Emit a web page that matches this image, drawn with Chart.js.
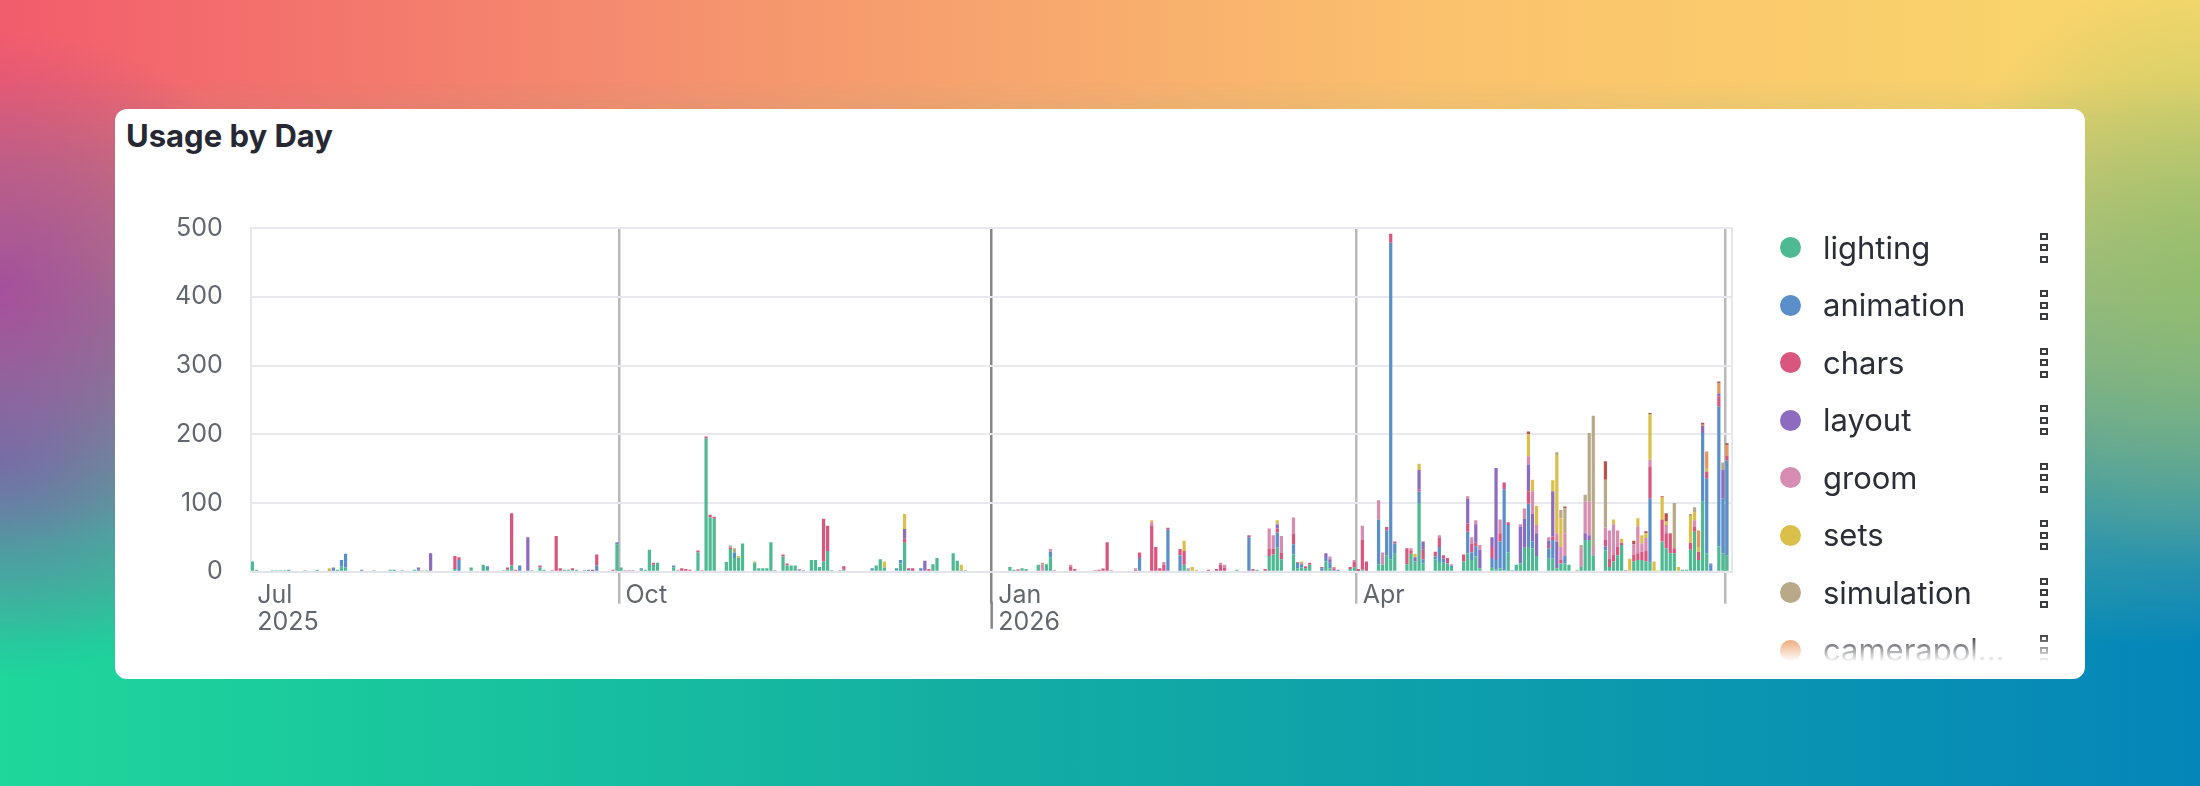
<!DOCTYPE html>
<html lang="en">
	<head>
		<meta charset="UTF-8" />
		<meta name="viewport" content="width=device-width, initial-scale=1.0" />
		<title>Usage by Day</title>
		<script src="https://cdn.jsdelivr.net/npm/chart.js"></script>
		<style>
			html, body { margin: 0; padding: 0; }
			body {
				width: 2200px; height: 786px; position: relative; overflow: hidden;
				font-family: Inter, "Noto Sans", sans-serif;
				background: linear-gradient(90deg, #f25c6c 0%, #f5946e 33%, #fbc26d 66%, #f8d86b 100%);
			}
			.bg-bottom {
				position: absolute; inset: 0;
				background: linear-gradient(90deg, #1ed79a 0%, #13aea3 45%, #0586b9 100%);
				-webkit-mask-image: linear-gradient(180deg, transparent 10%, #000 82%);
				mask-image: linear-gradient(180deg, transparent 10%, #000 82%);
			}
			.bg-side {
				position: absolute; inset: 0;
				background:
					radial-gradient(ellipse 300px 260px at 0px 290px, rgba(168, 74, 158, 0.9), rgba(168, 74, 158, 0)),
					radial-gradient(ellipse 260px 220px at 0px 460px, rgba(96, 112, 178, 0.8), rgba(96, 112, 178, 0)),
					radial-gradient(ellipse 260px 300px at 2200px 270px, rgba(140, 190, 100, 0.7), rgba(140, 190, 100, 0));
			}
			.card {
				position: absolute; left: 115px; top: 109px; width: 1970px; height: 570px;
				background: #fff; border-radius: 12px;
			}
			.title {
				position: absolute; left: 11px; top: 11px;
				font: 700 31px/31px Inter, sans-serif; color: #262933;
			}
			#usageChart { position: absolute; left: 115px; top: 195px; }
			.legend {
				position: absolute; left: 1775px; top: 219px; width: 290px; height: 443px; overflow: hidden;
				-webkit-mask-image: linear-gradient(180deg, #000 calc(100% - 28px), transparent 100%);
				mask-image: linear-gradient(180deg, #000 calc(100% - 28px), transparent 100%);
			}
			.legend-item { position: relative; height: 57.5px; display: flex; align-items: center; }
			.legend-dot { width: 21px; height: 21px; border-radius: 50%; margin-left: 4.5px; flex: none; }
			.legend-label {
				margin-left: 22.5px; font: 400 31px/38px Inter, sans-serif; color: #2b2e37;
				white-space: nowrap; overflow: hidden; text-overflow: ellipsis; max-width: 187.5px;
			}
			.legend-handle { position: absolute; left: 265px; top: 50%; transform: translateY(-50%); }
			.legend-handle span {
				display: block; width: 4px; height: 3px; border: 2px solid #3b3c40; margin: 0 0 4.5px 0;
			}
			.legend-handle span:last-child { margin-bottom: 0; }
		</style>
	</head>

	<body>
		<div class="bg-bottom"></div>
		<div class="bg-side"></div>
		<div class="card"><div class="title">Usage by Day</div></div>
		<canvas id="usageChart" width="1620" height="470"></canvas>
		<div class="legend" id="legend"></div>
	</body>
	<script>
		// day 0 = 2025-07-01, pairs are [day, count]
		const windowStart = 1.09;
		const windowEnd = 366.67;
		const tickDays = [windowStart, 92, 184, 274, 365];
		const tickLabels = [["Jul", "2025"], "Oct", ["Jan", "2026"], "Apr", ""];

		const lighting = [[1,15],[2,3],[6,2],[7,2],[8,2],[9,2],[14,2],[17,3],[20,1],[22,3],[23,8],[24,6],[31,2],[35,3],[38,2],[41,3],[44,2],[51,4],[55,6],[58,10],[59,4],[63,2],[64,3],[65,9],[70,2],[72,6],[73,3],[78,3],[79,3],[80,2],[81,3],[91,40],[92,6],[97,3],[98,3],[99,32],[100,10],[101,13],[105,6],[111,28],[113,194],[114,79],[115,77],[118,14],[119,33],[120,20],[121,20],[122,41],[125,13],[126,5],[127,5],[128,5],[129,43],[132,22],[133,9],[134,9],[135,9],[139,17],[140,17],[141,7],[142,15],[143,30],[147,3],[154,2],[155,9],[156,18],[157,6],[160,2],[161,12],[162,42],[163,2],[169,11],[170,20],[174,27],[175,16],[176,2],[188,7],[189,3],[191,5],[192,4],[195,10],[197,11],[198,21],[231,10],[232,3],[244,3],[249,3],[252,23],[253,25],[254,35],[255,18],[258,25],[259,5],[260,6],[261,5],[262,10],[266,15],[267,5],[272,4],[273,6],[274,1],[275,3],[279,11],[280,10],[281,24],[282,18],[283,26],[286,11],[287,26],[288,15],[289,100],[290,12],[293,18],[294,14],[295,13],[296,12],[297,7],[300,15],[301,27],[302,17],[303,22],[304,5],[307,7],[308,3],[309,5],[310,2],[311,28],[313,10],[314,12],[315,35],[316,36],[317,34],[318,23],[321,19],[322,19],[323,5],[324,12],[325,12],[326,10],[329,7],[330,46],[331,46],[332,24],[335,31],[336,7],[337,15],[338,24],[339,39],[342,15],[343,17],[344,17],[345,15],[346,13],[349,44],[350,34],[351,27],[352,27],[354,3],[355,3],[356,32],[357,58],[358,17],[359,102],[360,27],[363,37],[364,27],[365,24]];
		const animation = [[10,3],[21,6],[23,9],[24,20],[28,3],[36,3],[42,3],[52,17],[59,4],[67,9],[83,2],[84,3],[85,1],[86,9],[91,3],[95,2],[97,2],[105,3],[120,8],[137,2],[144,2],[146,2],[154,3],[160,3],[161,5],[166,5],[177,2],[198,8],[220,20],[227,61],[230,24],[247,50],[254,22],[258,15],[259,8],[260,4],[265,5],[266,5],[267,8],[268,2],[269,3],[279,65],[281,36],[282,461],[283,15],[289,17],[290,6],[293,4],[294,22],[295,6],[297,2],[301,31],[302,11],[303,15],[307,13],[308,14],[309,39],[310,118],[311,40],[312,2],[316,63],[317,10],[321,15],[322,27],[325,11],[335,6],[346,94],[359,100],[360,109],[361,10],[363,203],[364,80],[365,138]];
		const chars = [[51,19],[52,4],[64,3],[65,76],[66,3],[72,3],[75,2],[76,52],[77,5],[80,3],[85,2],[86,16],[90,3],[93,2],[94,2],[100,3],[106,2],[107,5],[108,4],[109,3],[111,3],[112,2],[113,3],[114,4],[115,3],[119,2],[130,2],[132,3],[133,3],[142,62],[143,37],[147,5],[162,6],[163,3],[164,5],[167,2],[168,4],[190,3],[199,2],[203,7],[204,4],[209,2],[210,3],[211,4],[212,43],[213,2],[219,3],[220,8],[223,67],[224,36],[225,5],[226,10],[227,3],[230,9],[231,20],[237,3],[239,4],[240,10],[241,6],[247,3],[248,4],[251,4],[252,10],[253,8],[254,6],[255,10],[258,15],[259,1],[260,2],[261,3],[262,3],[265,2],[268,3],[272,3],[273,8],[274,3],[275,44],[276,15],[281,5],[282,13],[283,3],[286,23],[287,5],[289,3],[290,14],[293,7],[294,13],[295,5],[296,8],[300,10],[301,12],[302,13],[303,5],[307,16],[309,12],[310,10],[311,4],[316,18],[321,5],[322,5],[324,5],[335,10],[336,12],[337,10],[338,12],[339,3],[340,2],[342,10],[343,10],[344,12],[345,15],[346,46],[349,32],[350,22],[351,29],[352,7],[356,10],[357,7],[358,12],[360,10],[363,15],[365,7]];
		const layout = [[42,3],[45,27],[69,50],[136,2],[162,14],[167,14],[254,5],[266,7],[267,5],[288,6],[289,28],[290,12],[301,36],[303,27],[304,27],[307,14],[308,134],[314,53],[315,42],[316,39],[317,40],[318,33],[321,6],[322,66],[323,39],[330,10],[331,7],[359,10],[361,2],[363,5],[364,41]];
		const groom = [[136,2],[190,1],[196,10],[198,4],[203,3],[219,2],[223,5],[226,4],[232,2],[240,3],[241,4],[252,30],[253,20],[254,2],[255,24],[258,24],[267,4],[273,3],[275,20],[279,28],[280,18],[287,3],[294,4],[297,2],[301,4],[302,9],[303,6],[304,7],[309,20],[314,4],[315,15],[316,12],[317,33],[318,12],[321,5],[323,12],[324,19],[325,33],[329,27],[330,46],[331,49],[332,12],[335,17],[336,41],[337,44],[338,24],[342,15],[343,39],[344,12],[345,19],[346,10],[350,12],[357,10]];
		const sets = [[20,4],[43,2],[121,3],[125,2],[157,9],[162,22],[176,8],[223,3],[231,15],[233,7],[234,3],[254,5],[260,3],[288,5],[289,9],[316,32],[317,17],[318,28],[322,16],[323,114],[324,42],[337,7],[339,6],[341,19],[343,12],[344,12],[345,7],[346,66],[347,15],[348,2],[349,32],[350,5],[353,7],[356,39],[357,12],[358,7],[360,5]];
		const simulation = [[119,3],[120,6],[196,3],[211,1],[323,4],[324,12],[325,36],[328,3],[329,5],[330,10],[331,100],[332,191],[335,70],[352,66],[356,3],[357,7],[364,11]];
		const camerapolish = [[268,2],[358,24],[359,2],[360,24],[363,14],[365,15]];
		const fx = [[316,4],[325,3],[335,27],[342,5],[345,3],[346,2],[349,2],[350,12],[359,3],[363,3],[365,3]];

		const seriesNames = ["lighting", "animation", "chars", "layout", "groom", "sets", "simulation", "camerapolish", "fx"];
		const seriesValues = [lighting, animation, chars, layout, groom, sets, simulation, camerapolish, fx];
		const seriesColors = ["#4fb994", "#5b8fca", "#d9577f", "#8d6bbf", "#d68db1", "#dac04b", "#b9a988", "#e8955b", "#b8554a"];

		const tickFont = { family: "Inter", size: 25, lineHeight: 1.06 };
		const tickGray = "#62666e";
		const yearGray = "#868686";

		// longer tick for the year boundaries
		const yearTicks = {
			id: "yearTicks",
			afterDraw(chart) {
				const x = chart.scales.x;
				const ctx = chart.ctx;
				ctx.save();
				ctx.strokeStyle = yearGray;
				ctx.lineWidth = 2.5;
				tickDays.forEach((d, i) => {
					if (!Array.isArray(tickLabels[i]) || d <= x.min) return;
					const px = x.getPixelForValue(d);
					ctx.beginPath();
					ctx.moveTo(px, x.top + 30);
					ctx.lineTo(px, x.top + 57);
					ctx.stroke();
				});
				ctx.restore();
			},
		};

		const legendBox = document.getElementById("legend");
		seriesNames.forEach((name, i) => {
			const item = document.createElement("div");
			item.className = "legend-item";
			item.innerHTML =
				'<div class="legend-dot" style="background:' + seriesColors[i] + '"></div>' +
				'<div class="legend-label">' + name + "</div>" +
				'<div class="legend-handle"><span></span><span></span><span></span></div>';
			legendBox.appendChild(item);
		});

		const gridColor = (c) => {
			if (!c.tick || c.tick.value === windowStart) return "#e5e7eb";
			return c.tick.value === tickDays[2] ? yearGray : "#b9b9b9";
		};

		const usageChart = new Chart(document.getElementById("usageChart"), {
			type: "bar",
			data: {
				datasets: seriesNames.map((name, i) => ({
					label: name,
					data: seriesValues[i].map(([d, v]) => ({ x: d + 0.5, y: v })),
					backgroundColor: seriesColors[i],
					borderWidth: 0,
					barPercentage: 0.8,
					categoryPercentage: 1,
				})),
			},
			options: {
				responsive: false,
				animation: false,
				devicePixelRatio: 1,
				layout: { padding: { top: 33.3, right: 3.3, left: 0, bottom: 0 } },
				plugins: { legend: { display: false }, tooltip: { enabled: false } },
				scales: {
					x: {
						type: "linear",
						min: windowStart,
						max: windowEnd,
						offset: false,
						stacked: true,
						afterBuildTicks: (s) => { s.ticks = tickDays.map((v) => ({ value: v })); },
						afterFit: (s) => { s.height = 93.3; },
						grid: {
							offset: false,
							color: gridColor,
							tickColor: (c) => (c.tick && c.tick.value === windowStart ? "rgba(0,0,0,0)" : gridColor(c)),
							lineWidth: (c) => (c.tick && c.tick.value === windowStart ? 2 : 2.5),
							tickWidth: 2.5,
							tickLength: 32,
						},
						border: { color: "#e3e5ea", width: 2 },
						ticks: {
							autoSkip: false,
							maxRotation: 0,
							align: "start",
							labelOffset: 6.5,
							padding: -21,
							color: tickGray,
							font: tickFont,
							callback: (v) => tickLabels[tickDays.indexOf(v)],
						},
					},
					y: {
						stacked: true,
						min: 0,
						max: 500,
						afterFit: (s) => { s.width = 135.7; },
						// invisible tick marks carry the gap between labels and axis
						grid: { color: "#e8e9ee", lineWidth: 2, drawTicks: true, tickLength: 25, tickColor: "rgba(0,0,0,0)" },
						border: { color: "#e5e7eb", width: 2 },
						ticks: { stepSize: 100, padding: 3, color: tickGray, font: tickFont },
					},
					y2: {
						position: "right",
						min: 0,
						max: 500,
						afterFit: (s) => { s.width = 0; },
						grid: { display: false, drawTicks: false },
						border: { color: "#e5e7eb", width: 2 },
						ticks: { display: false },
					},
				},
			},
			plugins: [yearTicks],
		});
	</script>
</html>
